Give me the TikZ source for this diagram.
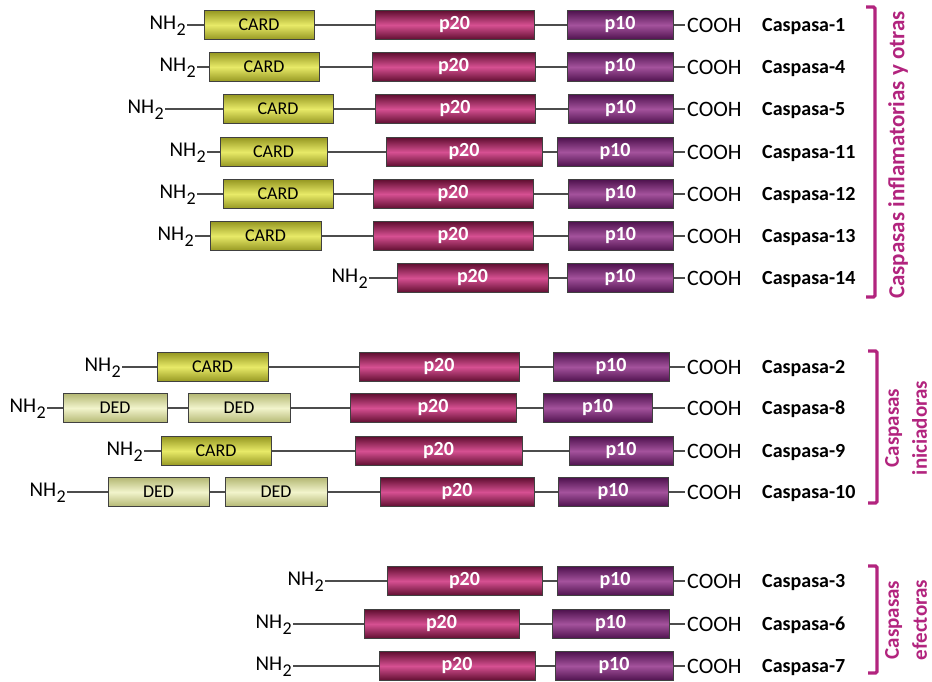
\documentclass[tikz,border=0pt]{standalone}
\usepackage{fontspec}
\setmainfont{Carlito}
\usetikzlibrary{backgrounds}

\definecolor{pAlight}{RGB}{214,80,146}
\definecolor{pAdark}{RGB}{96,14,48}
\definecolor{pBlight}{RGB}{164,82,156}
\definecolor{pBdark}{RGB}{78,18,78}
\definecolor{cardlight}{RGB}{232,234,104}
\definecolor{carddark}{RGB}{150,152,34}
\definecolor{dedlight}{RGB}{242,244,204}
\definecolor{deddark}{RGB}{180,184,116}
\definecolor{grpcol}{RGB}{178,36,126}

\newcommand{\nhtwo}{NH\kern0.5pt\raisebox{-6pt}{\fontsize{18}{18}\selectfont 2}}

\tikzset{
  protbox/.style={draw=black!75, line width=0.9pt, minimum height=29pt, inner sep=0pt},
  p20box/.style={protbox, top color=pAdark, bottom color=pAdark, middle color=pAlight,
    text=white, font=\fontsize{20}{24}\selectfont\bfseries},
  p10box/.style={protbox, top color=pBdark, bottom color=pBdark, middle color=pBlight,
    text=white, font=\fontsize{20}{24}\selectfont\bfseries},
  cardbox/.style={protbox, top color=carddark, bottom color=carddark, middle color=cardlight,
    font=\fontsize{18}{22}\selectfont},
  dedbox/.style={protbox, top color=deddark, bottom color=deddark, middle color=dedlight,
    font=\fontsize{18}{22}\selectfont},
  nterm/.style={inner sep=1pt, font=\fontsize{21}{24}\selectfont},
  cterm/.style={inner sep=2pt, font=\fontsize{22}{24}\selectfont},
  caslabel/.style={inner sep=0pt, font=\fontsize{20}{24}\selectfont\bfseries},
  backbone/.style={line width=1.6pt, black!70},
  bracket/.style={line width=3.2pt, grpcol, rounded corners=1.5pt},
  grouplabel/.style={rotate=90, align=center, text=grpcol, inner sep=0pt,
    font=\fontsize{21}{28}\selectfont\bfseries}
}

\begin{document}
\begin{tikzpicture}[x=1pt, y=-1pt]
  \useasboundingbox (0,0) rectangle (932,681);

  % p20 / p10 part of every caspase, NH2 and COOH ends, names
  \foreach \id/\y/\nx/\pa/\pb/\qa/\qb/\num in {
      c1/25/187/375/534/567/673/1,
      c4/67/197/372/535/567/673/4,
      c5/109/165/375/535/568/673/5,
      c11/152/207/386/542/557/673/11,
      c12/194/197/373/533/568/673/12,
      c13/236/195/373/533/568/673/13,
      c14/278/369/397/548/567/673/14,
      c2/367/122/359/519/553/669/2,
      c8/408/47/350/516/543/652/8,
      c9/451/144/355/522/569/673/9,
      c10/492/67/380/534/558/668/10,
      c3/581/325/387/542/557/673/3,
      c6/624/293/364/519/552/669/6,
      c7/666/293/379/535/555/673/7} {
    \node[nterm, anchor=base east] (nh-\id) at (\nx, \y+4) {\nhtwo};
    \node[p20box, minimum width={\pb-\pa}] (p20-\id) at ({(\pa+\pb)/2}, \y) {p20};
    \node[p10box, minimum width={\qb-\qa}] (p10-\id) at ({(\qa+\qb)/2}, \y) {p10};
    \node[cterm, anchor=base west] (cooh-\id) at (685, \y+7) {COOH};
    \node[caslabel, anchor=base west] (lab-\id) at (762, \y+6) {Caspasa-\num};
    \begin{scope}[on background layer]
      \draw[backbone] (nh-\id.east |- p20-\id.center) -- (cooh-\id.west |- p20-\id.center);
    \end{scope}
  }

  % CARD prodomains
  \foreach \id/\y/\a/\b in {c1/25/204/314, c4/67/209/319, c5/109/223/333,
      c11/152/220/327, c12/194/223/333, c13/236/210/321,
      c2/367/157/268, c9/451/161/271} {
    \node[cardbox, minimum width={\b-\a}] (card-\id) at ({(\a+\b)/2}, \y) {CARD};
  }

  % DED prodomains
  \node[dedbox, minimum width=104pt] (dedA-c8) at (115, 408) {DED};
  \node[dedbox, minimum width=102pt] (dedB-c8) at (239, 408) {DED};
  \node[dedbox, minimum width=101pt] (dedA-c10) at (158.5, 492) {DED};
  \node[dedbox, minimum width=102pt] (dedB-c10) at (276, 492) {DED};

  % groups
  \coordinate (g1-top) at (875,7);
  \coordinate (g1-bot) at (875,297);
  \coordinate (g2-top) at (877,351);
  \coordinate (g2-bot) at (877,503);
  \coordinate (g3-top) at (877,566);
  \coordinate (g3-bot) at (877,673);
  \foreach \g in {g1, g2, g3} {
    \draw[bracket] ([xshift=-9pt]\g-top) -- (\g-top) -- (\g-bot) -- ([xshift=-9pt]\g-bot);
  }
  \node[grouplabel, font=\fontsize{23}{28}\selectfont\bfseries] (g1-text) at (898,155)
    {Caspasas inflamatorias y otras};
  \node[grouplabel] (g2-text) at (906,428) {Caspasas\\iniciadoras};
  \node[grouplabel] (g3-text) at (906,620) {Caspasas\\efectoras};
\end{tikzpicture}
\end{document}
